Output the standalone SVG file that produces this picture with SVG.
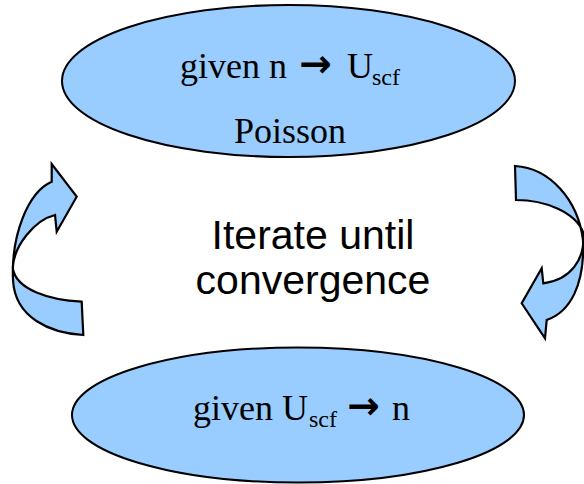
<svg xmlns="http://www.w3.org/2000/svg" width="584" height="484" viewBox="0 0 584 484">
<style>
.ell{fill:#99CCFF;stroke:#000;stroke-width:2}
.arr{fill:#99CCFF;stroke:#000;stroke-width:2.2;stroke-linejoin:miter}
.ser{font-family:"Liberation Serif","Times New Roman",serif;fill:#000;font-size:36px}
.sub{font-size:24px}
.san{font-family:"Liberation Sans",Arial,sans-serif;fill:#000;font-size:41px}
.ar{font-family:"DejaVu Sans",sans-serif;font-weight:bold;font-size:39px}
</style>
<rect width="584" height="484" fill="#fff"/>
<g id="connectors">
<path class="arr" d="M81.7,301.7 L83.3,335 C50,333 15,318 13,280 C11,235 28,192 51.7,181.7 L51.7,164 L76.7,196.7 L56.7,231.7 L55,215 C35,220 14,245 12.7,268 C16,290 50,300 81.7,301.7 Z"/>
<path class="arr" d="M515,166 L516,200 C545,200 575,212 583,232 C586,260 570,280 543.3,283.3 L541.7,268.3 L521.7,303.3 L545,338.3 L546.7,320 C570,312 585,285 583,240 C578,200 550,168 515,166 Z"/>
</g>
<g id="poisson">
<ellipse class="ell" cx="288.5" cy="81" rx="226.5" ry="76"/>
<text class="ser" x="180" y="78">given n<tspan class="ar" x="299" y="77">→</tspan><tspan x="347" y="78">U</tspan><tspan class="sub" x="372" y="85">scf</tspan></text>
<text class="ser" x="290" y="143" text-anchor="middle">Poisson</text>
</g>
<g id="density">
<ellipse class="ell" cx="298" cy="415" rx="226" ry="67.5"/>
<text class="ser" x="193" y="420">given U<tspan class="sub" x="309" y="427">scf</tspan><tspan class="ar" x="347" y="419">→</tspan><tspan x="392" y="420">n</tspan></text>
</g>
<g id="label">
<text class="san" x="313" y="249" text-anchor="middle">Iterate until</text>
<text class="san" x="313" y="294" text-anchor="middle">convergence</text>
</g>
</svg>
